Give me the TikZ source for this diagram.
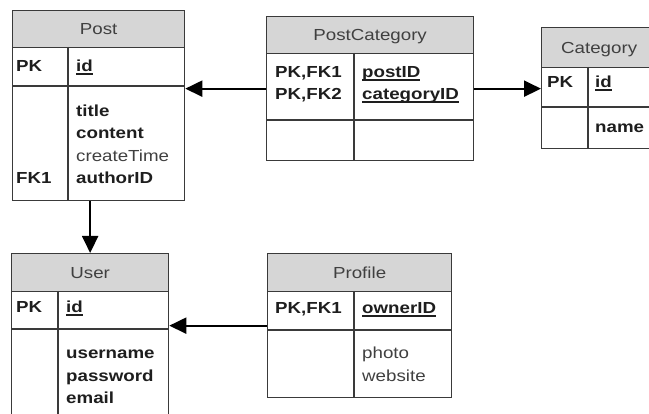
\documentclass[tikz,border=0pt]{standalone}
\usepackage{fontspec}
\setmainfont{Liberation Sans}[FakeStretch=1.17]
\usetikzlibrary{arrows.meta}
\definecolor{bordc}{HTML}{3A3A3A}
\definecolor{hdrc}{HTML}{D6D6D6}
\definecolor{txtc}{HTML}{1E1E1E}
\definecolor{ltxt}{HTML}{404040}
\newcommand\ulx[1]{\setbox0\hbox{#1}\rlap{\rule[-2.6pt]{\wd0}{1.1pt}}\box0}
\begin{document}
\begin{tikzpicture}[x=1pt,y=-1pt,
  every node/.style={font=\fontsize{16}{22}\selectfont},
  frame/.style={draw=bordc, line width=1.3pt, rectangle, inner sep=0pt, anchor=north west},
  hdr/.style={frame, fill=hdrc, text=ltxt, text height=13pt, text depth=1.6pt},
  key/.style={anchor=base west, inner sep=0pt, text=txtc, font=\fontsize{16}{22}\selectfont\bfseries},
  attr/.style={anchor=base west, inner sep=0pt, text=ltxt},
  conn/.style={draw=black, line width=2pt, -{Triangle[length=17pt,width=16pt]}},
  grid/.style={draw=bordc, line width=1.3pt}]
\clip (0,0) rectangle (649,414);
\fill[white] (0,0) rectangle (649,414);

% Post
\node[frame, minimum width=172pt, minimum height=190pt] (post) at (12,10) {};
\node[hdr, minimum width=172pt, minimum height=37pt] (posth) at (12,10) {Post};
\draw[grid] (12,86) -- (184,86);
\draw[grid] (68,47) -- (68,200);
\node[key] (postpk) at (16,72) {PK};
\node[key] (postid) at (76,72) {\ulx{id}};
\node[key] (posttitle) at (76,117) {title};
\node[key] (postcontent) at (76,139) {content};
\node[attr] (postct) at (76,162) {createTime};
\node[key] (postauth) at (76,184) {authorID};
\node[key] (postfk) at (16,184) {FK1};

% PostCategory
\node[frame, minimum width=207pt, minimum height=144pt] (pc) at (266,16) {};
\node[hdr, minimum width=207pt, minimum height=37pt] (pch) at (266,16) {PostCategory};
\draw[grid] (266,120) -- (473,120);
\draw[grid] (354,53) -- (354,160);
\node[key] (pcpk1) at (275,78) {PK,FK1};
\node[key] (pcpk2) at (275,100) {PK,FK2};
\node[key] (pcpost) at (362,78) {\ulx{postID}};
\node[key] (pccat) at (362,100) {\ulx{categoryID}};

% Category
\node[frame, minimum width=115pt, minimum height=121pt] (cat) at (541,27) {};
\node[hdr, minimum width=115pt, minimum height=40pt] (cath) at (541,27) {Category};
\draw[grid] (541,107) -- (656,107);
\draw[grid] (588,67) -- (588,148);
\node[key] (catpk) at (547,88) {PK};
\node[key] (catid) at (595,88) {\ulx{id}};
\node[key] (catname) at (595,133) {name};

% User
\node[frame, minimum width=157pt, minimum height=170pt] (user) at (11,253) {};
\node[hdr, minimum width=157pt, minimum height=38pt] (userh) at (11,253) {User};
\draw[grid] (11,329) -- (168,329);
\draw[grid] (58,291) -- (58,423);
\node[key] (userpk) at (16,313) {PK};
\node[key] (userid) at (66,313) {\ulx{id}};
\node[key] (username) at (66,359) {username};
\node[key] (userpw) at (66,382) {password};
\node[key] (usermail) at (66,404) {email};

% Profile
\node[frame, minimum width=184pt, minimum height=144pt] (prof) at (267,253) {};
\node[hdr, minimum width=184pt, minimum height=38pt] (profh) at (267,253) {Profile};
\draw[grid] (267,330) -- (451,330);
\draw[grid] (354,291) -- (354,397);
\node[key] (profpk) at (275,314) {PK,FK1};
\node[key] (profown) at (362,314) {\ulx{ownerID}};
\node[attr] (profphoto) at (362,359) {photo};
\node[attr] (profweb) at (362,382) {website};

% connectors
\draw[conn] (pc.west) -- (pc.west -| post.east);
\draw[conn] (pc.east) -- (pc.east -| cat.west);
\draw[conn] (user.north |- post.south) -- (user.north);
\draw[conn] (prof.west) -- (prof.west -| user.east);
\end{tikzpicture}
\end{document}
